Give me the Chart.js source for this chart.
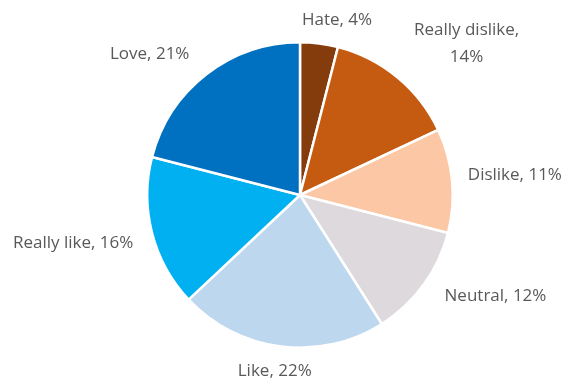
<!DOCTYPE html>
<html lang="en">
<head>
    <meta charset="UTF-8">
    <title>Opinion survey</title>
    <script src="https://cdn.jsdelivr.net/npm/chart.js"></script>
    <style>
        html, body { margin: 0; padding: 0; background: #ffffff; }
        #wrap { width: 563px; height: 381px; }
    </style>
</head>
<body>
    <div id="wrap"><canvas id="chartOpinion" width="563" height="381"></canvas></div>

    <script>
        // Answers and their share (%)
        const categories = ['Hate', 'Really dislike', 'Dislike', 'Neutral', 'Like', 'Really like', 'Love'];
        const shares = [4, 14, 11, 12, 22, 16, 21];
        const sliceColors = ['#843C0C', '#C55A11', '#FCC7A5', '#DDD9DD', '#BDD7EE', '#00B0F0', '#0070C0'];

        // Small hand adjustments for each label (px) and whether it wraps onto two lines
        const labelNudge = [
            { dx: 12, dy: -1, wrap: false },
            { dx: 28, dy: -6, wrap: true },
            { dx: 4, dy: -3, wrap: false },
            { dx: 21, dy: -2, wrap: false },
            { dx: 0, dy: 2, wrap: false },
            { dx: -9, dy: 5, wrap: false },
            { dx: -25, dy: -2, wrap: false }
        ];

        const labelFont = '17px "Open Sans", sans-serif';
        const lineHeight = 27;

        // Draws "Name, xx%" outside each slice
        const outsideLabels = {
            id: 'outsideLabels',
            afterDatasetsDraw(chart) {
                const ctx = chart.ctx;
                const arcs = chart.getDatasetMeta(0).data;
                ctx.save();
                ctx.font = labelFont;
                ctx.fillStyle = '#595959';
                ctx.textAlign = 'center';
                ctx.textBaseline = 'middle';
                arcs.forEach((arc, i) => {
                    const p = arc.getProps(['x', 'y', 'startAngle', 'endAngle', 'outerRadius'], true);
                    const mid = (p.startAngle + p.endAngle) / 2;
                    const lines = labelNudge[i].wrap
                        ? [categories[i] + ',', shares[i] + '%']
                        : [categories[i] + ', ' + shares[i] + '%'];
                    const w = Math.max(...lines.map(l => ctx.measureText(l).width));
                    const h = lines.length * lineHeight - 6;
                    const r = p.outerRadius + 12;
                    // push the text box outward along the slice's middle direction
                    const cx = p.x + Math.cos(mid) * (r + w / 2) + labelNudge[i].dx;
                    const cy = p.y + Math.sin(mid) * (r + h / 2) + labelNudge[i].dy;
                    const top = cy - (lines.length - 1) * lineHeight / 2;
                    lines.forEach((l, k) => ctx.fillText(l, cx, top + k * lineHeight));
                });
                ctx.restore();
            }
        };

        new Chart(document.getElementById('chartOpinion').getContext('2d'), {
            type: 'pie',
            data: {
                labels: categories,
                datasets: [{
                    data: shares,
                    backgroundColor: sliceColors,
                    borderColor: '#ffffff',
                    borderWidth: 2.5
                }]
            },
            options: {
                responsive: false,
                animation: false,
                layout: {
                    padding: { top: 41, bottom: 32, left: 139, right: 102 }
                },
                plugins: {
                    legend: { display: false },
                    tooltip: { enabled: false }
                }
            },
            plugins: [outsideLabels]
        });
    </script>
</body>
</html>
